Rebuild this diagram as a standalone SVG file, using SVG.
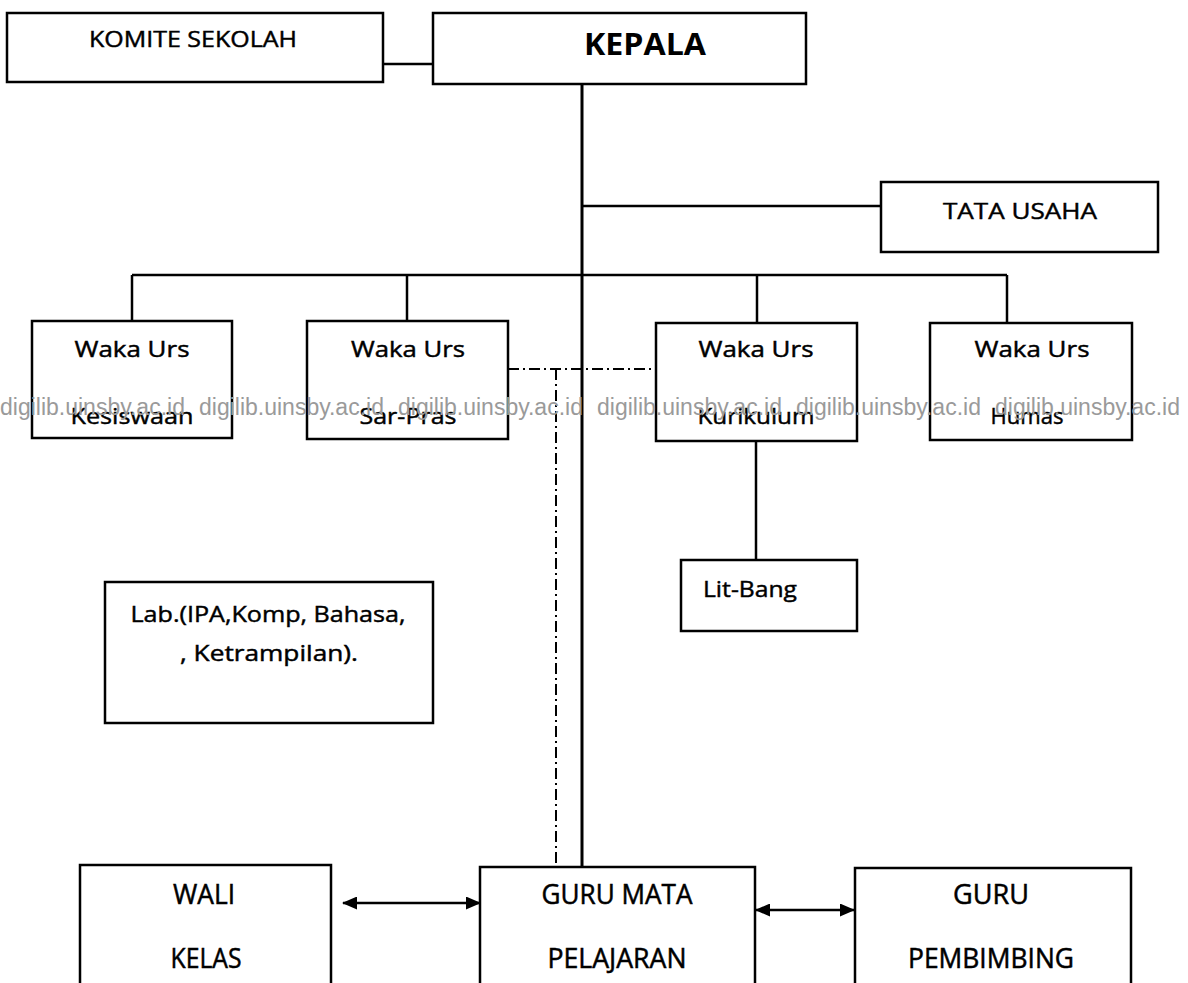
<svg xmlns="http://www.w3.org/2000/svg" width="1188" height="983" viewBox="0 0 1188 983">
<style>
  .box { fill: #ffffff; stroke: #000000; stroke-width: 2.5; }
  .ln { fill: none; stroke: #000000; stroke-width: 2.5; }
  .dd { fill: none; stroke: #000000; stroke-width: 2; stroke-dasharray: 11 4 2 4; }
  .t { font-family: "Open Sans", "Noto Sans", "Liberation Sans", sans-serif; font-size: 22px; fill: #000000; stroke: #000000; stroke-width: 0.45; text-anchor: middle; }
  .tb { font-family: "Open Sans", "Noto Sans", "Liberation Sans", sans-serif; font-size: 30px; font-weight: bold; fill: #000000; text-anchor: middle; }
  .tc { font-family: "Open Sans", "Noto Sans", "Liberation Sans", sans-serif; font-size: 27px; fill: #000000; stroke: #000000; stroke-width: 0.5; text-anchor: middle; }
  .wm { font-family: "Liberation Sans", Arial, sans-serif; font-size: 23px; fill: #9a9a9a; }
</style>
<defs>
  <marker id="ah" markerUnits="userSpaceOnUse" markerWidth="15" markerHeight="13" refX="14" refY="6.5" orient="auto-start-reverse">
    <path d="M0,0 L15,6.5 L0,13 Z" fill="#000000"/>
  </marker>
</defs>
<rect width="1188" height="983" fill="#ffffff"/>

<g id="connectors">
  <line class="ln" x1="383" y1="64" x2="433" y2="64"/>
  <line class="ln" x1="582" y1="84" x2="582" y2="867" style="stroke-width:3"/>
  <line class="ln" x1="582" y1="206" x2="881" y2="206"/>
  <line class="ln" x1="132" y1="275" x2="1007" y2="275"/>
  <line class="ln" x1="132" y1="275" x2="132" y2="321"/>
  <line class="ln" x1="407" y1="275" x2="407" y2="321"/>
  <line class="ln" x1="757" y1="275" x2="757" y2="323"/>
  <line class="ln" x1="1007" y1="275" x2="1007" y2="323"/>
  <line class="ln" x1="756" y1="441" x2="756" y2="560"/>
  <path class="dd" d="M508,369 H656"/>
  <path class="dd" d="M556,369 V867"/>
  <line class="ln" x1="343" y1="903" x2="480" y2="903" marker-start="url(#ah)" marker-end="url(#ah)"/>
  <line class="ln" x1="756" y1="910" x2="854" y2="910" marker-start="url(#ah)" marker-end="url(#ah)"/>
</g>

<g id="komite">
  <rect class="box" x="7" y="13" width="376" height="69"/>
  <text class="t" x="193" y="47" font-size="21" textLength="208" lengthAdjust="spacingAndGlyphs">KOMITE SEKOLAH</text>
</g>
<g id="kepala">
  <rect class="box" x="433" y="13" width="373" height="71"/>
  <text class="tb" x="645" y="55" textLength="122" lengthAdjust="spacingAndGlyphs">KEPALA</text>
</g>
<g id="tata-usaha">
  <rect class="box" x="881" y="182" width="277" height="70"/>
  <text class="t" x="1020" y="219" textLength="154" lengthAdjust="spacingAndGlyphs">TATA USAHA</text>
</g>

<g id="waka-kesiswaan">
  <rect class="box" x="32" y="321" width="200" height="117"/>
  <text class="t" x="132" y="357" textLength="115" lengthAdjust="spacingAndGlyphs">Waka Urs</text>
  <text class="t" x="132" y="424" textLength="123" lengthAdjust="spacingAndGlyphs">Kesiswaan</text>
</g>
<g id="waka-sarpras">
  <rect class="box" x="307" y="321" width="201" height="118"/>
  <text class="t" x="408" y="357" textLength="114" lengthAdjust="spacingAndGlyphs">Waka Urs</text>
  <text class="t" x="408" y="424" textLength="97" lengthAdjust="spacingAndGlyphs">Sar-Pras</text>
</g>
<g id="waka-kurikulum">
  <rect class="box" x="656" y="323" width="201" height="118"/>
  <text class="t" x="756" y="357" textLength="115" lengthAdjust="spacingAndGlyphs">Waka Urs</text>
  <text class="t" x="756" y="424" textLength="117" lengthAdjust="spacingAndGlyphs">Kurikulum</text>
</g>
<g id="waka-humas">
  <rect class="box" x="930" y="323" width="202" height="117"/>
  <text class="t" x="1032" y="357" textLength="115" lengthAdjust="spacingAndGlyphs">Waka Urs</text>
  <text class="t" x="1027" y="424" textLength="73" lengthAdjust="spacingAndGlyphs">Humas</text>
</g>

<g id="watermark">
  <text class="wm" x="0" y="415">digilib.uinsby.ac.id</text>
  <text class="wm" x="199" y="415">digilib.uinsby.ac.id</text>
  <text class="wm" x="398" y="415">digilib.uinsby.ac.id</text>
  <text class="wm" x="597" y="415">digilib.uinsby.ac.id</text>
  <text class="wm" x="796" y="415">digilib.uinsby.ac.id</text>
  <text class="wm" x="995" y="415">digilib.uinsby.ac.id</text>
</g>

<g id="lit-bang">
  <rect class="box" x="681" y="560" width="176" height="71"/>
  <text class="t" x="703" y="597" style="text-anchor:start" textLength="94" lengthAdjust="spacingAndGlyphs">Lit-Bang</text>
</g>
<g id="lab">
  <rect class="box" x="105" y="582" width="328" height="141"/>
  <text class="t" x="268" y="622" font-size="23" textLength="275" lengthAdjust="spacingAndGlyphs">Lab.(IPA,Komp, Bahasa,</text>
  <text class="t" x="269" y="661" font-size="23" textLength="178" lengthAdjust="spacingAndGlyphs">, Ketrampilan).</text>
</g>

<g id="wali-kelas">
  <rect class="box" x="80" y="865" width="251" height="140"/>
  <text class="tc" x="204" y="904" textLength="62" lengthAdjust="spacingAndGlyphs">WALI</text>
  <text class="tc" x="206" y="968" textLength="71" lengthAdjust="spacingAndGlyphs">KELAS</text>
</g>
<g id="guru-mata-pelajaran">
  <rect class="box" x="480" y="867" width="275" height="140"/>
  <text class="tc" x="617" y="904" textLength="151" lengthAdjust="spacingAndGlyphs">GURU MATA</text>
  <text class="tc" x="617" y="968" textLength="139" lengthAdjust="spacingAndGlyphs">PELAJARAN</text>
</g>
<g id="guru-pembimbing">
  <rect class="box" x="855" y="868" width="276" height="140"/>
  <text class="tc" x="991" y="904" textLength="76" lengthAdjust="spacingAndGlyphs">GURU</text>
  <text class="tc" x="991" y="968" textLength="166" lengthAdjust="spacingAndGlyphs">PEMBIMBING</text>
</g>
</svg>
